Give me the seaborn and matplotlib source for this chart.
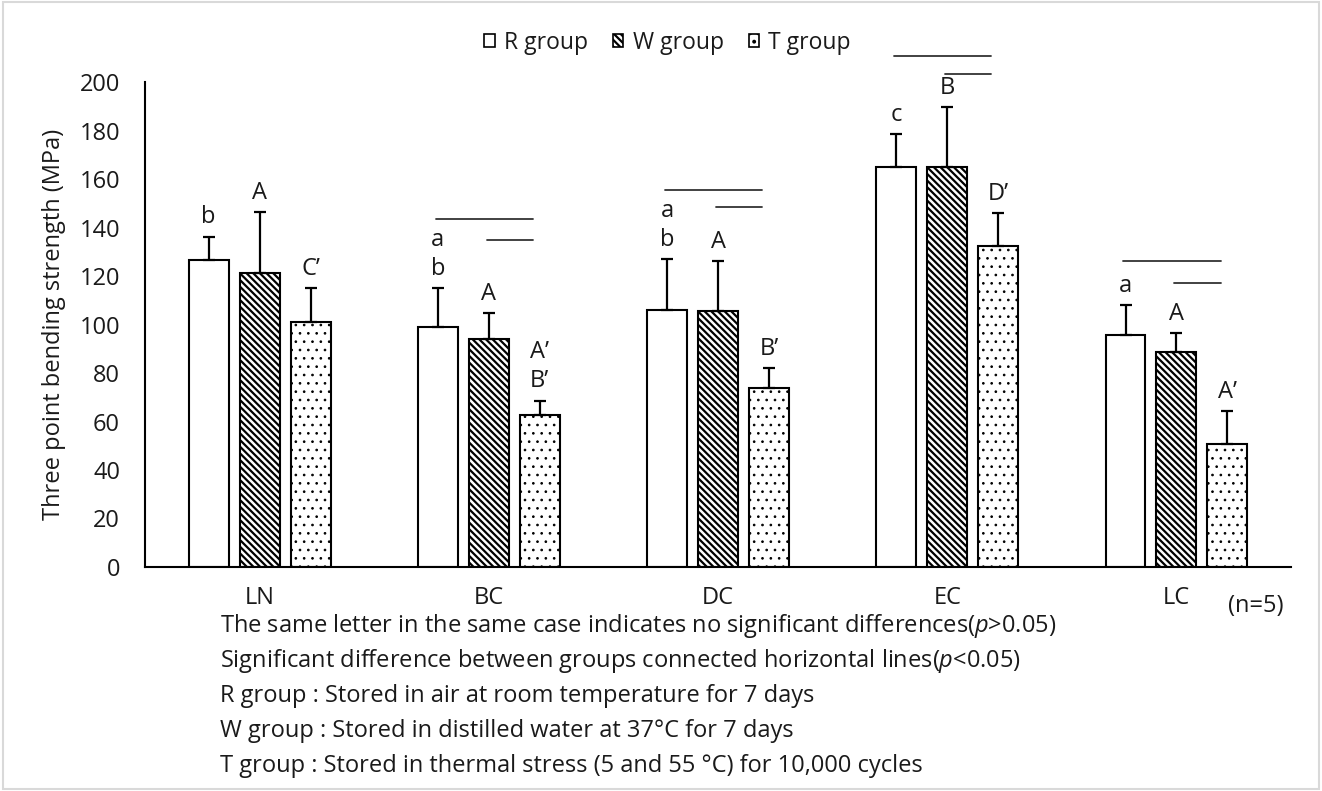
import numpy as np
import pandas as pd
import matplotlib
matplotlib.use("Agg")
import matplotlib.pyplot as plt
from matplotlib.patches import Patch, Rectangle
import seaborn as sns

# ---------------- data ----------------
categories = ["LN", "BC", "DC", "EC", "LC"]
groups = ["R group", "W group", "T group"]
r_means = [126.8, 99.0, 106.0, 165.0, 95.6]
w_means = [121.2, 94.0, 105.5, 165.0, 88.6]
t_means = [101.0, 62.5, 74.0, 132.5, 50.6]
r_err = [9.4, 16.0, 21.0, 13.6, 12.4]
w_err = [25.2, 10.6, 20.5, 24.7, 7.9]
t_err = [14.0, 6.0, 8.0, 13.5, 13.7]
r_letters = [["b"], ["b", "a"], ["b", "a"], ["c"], ["a"]]
w_letters = [["A"], ["A"], ["A"], ["B"], ["A"]]
t_letters = [["C\u2019"], ["B\u2019", "A\u2019"], ["B\u2019"], ["D\u2019"], ["A\u2019"]]
# significance lines: (category, from group, to group, y value)
sig_lines = [
    ("BC", "R group", "T group", 143.5), ("BC", "W group", "T group", 135.0),
    ("DC", "R group", "T group", 155.5), ("DC", "W group", "T group", 148.4),
    ("EC", "R group", "T group", 210.7), ("EC", "W group", "T group", 203.3),
    ("LC", "R group", "T group", 126.2), ("LC", "W group", "T group", 117.0),
]
y_ticks = [0, 20, 40, 60, 80, 100, 120, 140, 160, 180, 200]
footnotes = [
    "The same letter in the same case indicates no significant differences($\\it{p}$>0.05)",
    "Significant difference between groups connected horizontal lines($\\it{p}$<0.05)",
    "R group : Stored in air at room temperature for 7 days",
    "W group : Stored in distilled water at 37\u00b0C for 7 days",
    "T group : Stored in thermal stress (5 and 55 \u00b0C) for 10,000 cycles",
]

# ---------------- style ----------------
sns.set_style("white")
plt.rcParams["font.family"] = ["Open Sans", "DejaVu Sans"]
plt.rcParams["mathtext.fontset"] = "custom"
plt.rcParams["mathtext.rm"] = "Open Sans"
plt.rcParams["mathtext.it"] = "Open Sans:italic"
plt.rcParams["hatch.linewidth"] = 1.6
plt.rcParams["hatch.color"] = "black"
TXT = "#1a1a1a"
FS = 17

df = pd.DataFrame({
    "category": np.repeat(categories, 3),
    "group": groups * len(categories),
    "value": [v for trip in zip(r_means, w_means, t_means) for v in trip],
})

fig = plt.figure(figsize=(13.22, 7.91), dpi=100)
fig.patch.set_facecolor("white")
fig.add_artist(Rectangle((0.002, 0.003), 0.996, 0.994, transform=fig.transFigure,
                         fill=False, edgecolor="#d9d9d9", linewidth=1.5))
ax = fig.add_axes([0.1097, 0.2832, 0.8669, 0.6131])

sns.barplot(data=df, x="category", y="value", hue="group", order=categories,
            hue_order=groups, width=0.667, gap=0.216, errorbar=None,
            palette=["white", "white", "white"], edgecolor="black",
            linewidth=1.5, legend=False, ax=ax)

hatches = ["", "\\\\\\\\\\", ".."]
hatch_lw = [1.0, 1.6, 0.7]
errs = [r_err, w_err, t_err]
means = [r_means, w_means, t_means]
letters = [r_letters, w_letters, t_letters]
centers = {}
bar_conts = list(ax.containers)
for gi, cont in enumerate(bar_conts):
    xs = []
    for bar in cont:
        bar.set_hatch(hatches[gi])
        bar.set_facecolor("white")
        bar.set_edgecolor("black")
        if hasattr(bar, "set_hatch_linewidth"):
            bar.set_hatch_linewidth(hatch_lw[gi])
        xs.append(bar.get_x() + bar.get_width() / 2)
    centers[groups[gi]] = xs
    xs = np.array(xs)
    m = np.array(means[gi])
    e = np.array(errs[gi])
    ax.errorbar(xs, m, yerr=[np.zeros_like(e), e], fmt="none", ecolor="black",
                elinewidth=1.6, capsize=4.3, capthick=1.6, zorder=3)
    for xi, yi, ei, labs in zip(xs, m, e, letters[gi]):
        for k, lab in enumerate(labs):
            ax.text(xi, yi + ei + 8 + 12 * k, lab, ha="center", va="center",
                    fontsize=FS, color=TXT, zorder=4)

for cat, g1, g2, yv in sig_lines:
    ci = categories.index(cat)
    x1 = centers[g1][ci] - 0.01
    x2 = centers[g2][ci] - 0.03
    ax.plot([x1, x2], [yv, yv], color="#333333", linewidth=1.3, clip_on=False)

ax.set_ylim(0, 200)
ax.set_xlim(-0.5, 4.5)
ax.set_yticks(y_ticks)
ax.set_yticklabels([str(t) for t in y_ticks])
ax.tick_params(axis="both", length=0, labelsize=FS, labelcolor=TXT)
ax.tick_params(axis="y", pad=18)
ax.tick_params(axis="x", pad=14)
ax.set_xlabel("")
ax.set_ylabel("Three point bending strength (MPa)", fontsize=FS, color=TXT)
ax.yaxis.set_label_coords(-0.069, 0.5)
for s in ["top", "right"]:
    ax.spines[s].set_visible(False)
for s in ["left", "bottom"]:
    ax.spines[s].set_color("black")
    ax.spines[s].set_linewidth(1.5)
ax.grid(False)

fig.text(1228 / 1322, 1 - 606 / 791, "(n=5)", fontsize=FS, color=TXT, va="center")

handles = []
for h, lw in zip(hatches, hatch_lw):
    p = Patch(facecolor="white", edgecolor="black", hatch=h, linewidth=1.2)
    if hasattr(p, "set_hatch_linewidth"):
        p.set_hatch_linewidth(lw)
    handles.append(p)
fig.legend(handles=handles, labels=groups, loc="center",
           bbox_to_anchor=(0.505, 0.946), ncol=3, frameon=False, fontsize=16.5,
           handlelength=0.45, handleheight=0.45, handletextpad=0.4,
           columnspacing=1.1, labelcolor=TXT)

ys = [626, 661, 696, 731, 766]
for t, y in zip(footnotes, ys):
    fig.text(220 / 1322, 1 - y / 791, t, fontsize=FS, color=TXT, va="center")

fig.savefig("out.png", dpi=100)
